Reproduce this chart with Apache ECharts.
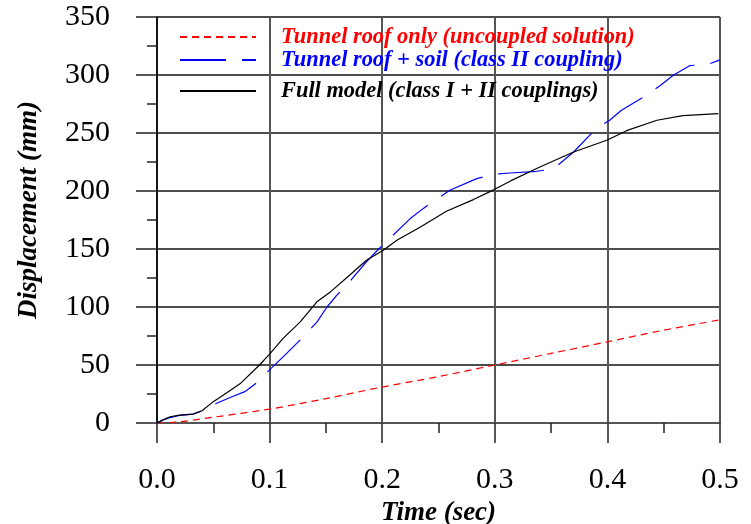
<!DOCTYPE html>
<html>
<head>
<meta charset="utf-8">
<script src="https://cdn.jsdelivr.net/npm/echarts@6/dist/echarts.min.js"></script>
<style>html,body{margin:0;padding:0;background:#fff}#c{width:751px;height:524px}</style>
</head>
<body>
<div id="c"></div>
<script>
// ---- data ----
const seriesNames = [
  'Tunnel roof only (uncoupled solution)',
  'Tunnel roof + soil (class II coupling)',
  'Full model (class I + II couplings)'
];
const xTicks = [0, 0.1, 0.2, 0.3, 0.4, 0.5];
const yTicks = [0, 50, 100, 150, 200, 250, 300, 350];

const redTime = [0, 0.02, 0.05, 0.1, 0.15, 0.2, 0.25, 0.3, 0.35, 0.4, 0.45, 0.5];
const redDisp = [0, 1, 5, 12, 21, 31, 40, 50, 60, 70, 80, 89];

const blueTime = [0, 0.005, 0.0115, 0.02, 0.032, 0.04, 0.053, 0.065, 0.078, 0.0885, 0.098, 0.112, 0.127, 0.142, 0.151, 0.1596, 0.171, 0.186, 0.1965, 0.2247, 0.2365, 0.26, 0.284, 0.299, 0.3135, 0.337, 0.352, 0.37, 0.39, 0.402, 0.4125, 0.432, 0.447, 0.4585, 0.473, 0.491, 0.5];
const blueDisp = [0, 2.5, 4.6, 6.5, 7.7, 10.6, 17, 22, 27, 34.7, 44, 57, 71.5, 87, 100, 110, 121.7, 139, 149.6, 176, 185, 200.6, 210.7, 214.4, 215.5, 217, 219, 233.6, 253.8, 261, 269.6, 281, 291, 299.7, 308, 309.8, 313];

const blackTime = [0, 0.005, 0.0115, 0.02, 0.032, 0.04, 0.05, 0.062, 0.074, 0.091, 0.1, 0.112, 0.127, 0.142, 0.154, 0.171, 0.186, 0.201, 0.213, 0.234, 0.257, 0.281, 0.299, 0.314, 0.34, 0.37, 0.4, 0.417, 0.444, 0.467, 0.4985];
const blackDisp = [0, 2.5, 5.4, 6.8, 7.7, 10.6, 18.4, 26, 34, 50, 59.4, 72.9, 87, 104.5, 113, 127.4, 140.3, 149, 157.6, 169, 182.5, 192.6, 201, 208.7, 220.7, 233.6, 244, 252, 261, 265, 266.7];

const zip = (a, b) => a.map((t, i) => [t, b[i]]);

const serif = 'Liberation Serif, Times New Roman, serif';
const chart = echarts.init(document.getElementById('c'));

function legendFor(name, color, centerY) {
  return {
    data: [name],
    left: 179,
    top: centerY - 12,
    padding: 0,
    itemWidth: 76,
    itemHeight: 14,
    selectedMode: false,
    itemStyle: { opacity: 0 },
    textStyle: {
      color: color, fontFamily: serif, fontSize: 22.4, fontStyle: 'italic',
      fontWeight: 'bold', lineHeight: 24, padding: [0, 0, 0, 20]
    }
  };
}

chart.setOption({
  animation: false,
  backgroundColor: '#fff',
  grid: { left: 157, right: 31, top: 17, bottom: 101, containLabel: false, outerBoundsMode: 'none' },
  legend: [
    legendFor(seriesNames[0], '#ff0000', 37),
    legendFor(seriesNames[1], '#0000ff', 60),
    legendFor(seriesNames[2], '#000000', 91)
  ],
  xAxis: {
    type: 'value',
    min: xTicks[0], max: xTicks[xTicks.length - 1], interval: 0.1,
    name: 'Time (sec)', nameLocation: 'middle', nameGap: 74,
    nameTextStyle: { fontFamily: serif, fontSize: 27, fontStyle: 'italic', fontWeight: 'bold', color: '#000' },
    axisLine: { onZero: false, lineStyle: { color: '#555', width: 2 } },
    axisTick: { inside: false, length: 20, lineStyle: { color: '#222', width: 1.5 } },
    minorTick: { show: true, splitNumber: 2, length: 10, lineStyle: { color: '#222', width: 1.5 } },
    axisLabel: { margin: 42, fontFamily: serif, fontSize: 30, color: '#000', formatter: v => v.toFixed(1) },
    splitLine: { show: true, lineStyle: { color: '#555', width: 2 } }
  },
  yAxis: {
    type: 'value',
    min: yTicks[0], max: yTicks[yTicks.length - 1], interval: 50,
    name: 'Displacement (mm)', nameLocation: 'middle', nameGap: 114,
    nameTextStyle: { fontFamily: serif, fontSize: 27, fontStyle: 'italic', fontWeight: 'bold', color: '#000', padding: [0, 0, 0, 20] },
    axisLine: { lineStyle: { color: '#000', width: 1.5 } },
    axisTick: { inside: false, length: 21, lineStyle: { color: '#222', width: 1.5 } },
    minorTick: { show: true, splitNumber: 2, length: 10, lineStyle: { color: '#222', width: 1.5 } },
    axisLabel: { margin: 47, fontFamily: serif, fontSize: 30, color: '#000' },
    splitLine: { show: true, lineStyle: { color: '#111', width: 1.5 } }
  },
  series: [
    { name: seriesNames[0], type: 'line', data: zip(redTime, redDisp), showSymbol: false, symbol: 'none',
      smooth: 0.3, lineStyle: { color: '#ff0000', width: 1.2, type: [7, 5] }, itemStyle: { color: '#ff0000' }, z: 3 },
    { name: seriesNames[1], type: 'line', data: zip(blueTime, blueDisp), showSymbol: false, symbol: 'none',
      lineStyle: { color: '#0000ff', width: 1.2, type: [46, 16] }, itemStyle: { color: '#0000ff' }, z: 4 },
    { name: seriesNames[2], type: 'line', data: zip(blackTime, blackDisp), showSymbol: false, symbol: 'none',
      lineStyle: { color: '#000000', width: 1.2 }, itemStyle: { color: '#000000' }, z: 5 }
  ]
});
</script>
</body>
</html>
